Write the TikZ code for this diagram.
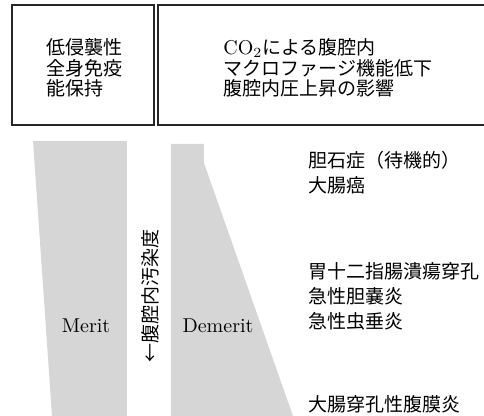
\documentclass[tikz,border=0pt]{standalone}
\usepackage{fontspec}
\newfontfamily\jfont[Scale=0.95]{Noto Sans CJK JP}
\begin{document}
\begin{tikzpicture}[x=0.5pt,y=-0.5pt,
    panel/.style={draw=black!85,line width=0.7pt},
    band/.style={fill=black!16,draw=none},
    jtext/.style={anchor=base west,inner sep=0pt,font=\jfont},
    ltext/.style={anchor=base,inner sep=0pt}]
  \useasboundingbox (0,0) rectangle (484,416);
  % boxes
  \draw[panel] (12,5) rectangle (154,125);
  \draw[panel] (158,5) rectangle (492,125);
  \node[jtext] (m1) at (46,55) {低侵襲性};
  \node[jtext] (m2) at (46,75.5) {全身免疫};
  \node[jtext] (m3) at (46,96) {能保持};
  \node[anchor=base west,inner sep=0pt] (d1) at (223,55) {CO$_2${\jfont による腹腔内}};
  \node[jtext] (d2) at (223,75.5) {マクロファージ機能低下};
  \node[jtext] (d3) at (223,96) {腹腔内圧上昇の影響};
  % bands
  \fill[band] (33,141) -- (127,141) -- (127,416) -- (52,416) -- cycle;
  \fill[band] (171,144) -- (204,144) -- (204,163) -- (293,416) -- (171,416) -- cycle;
  \node[ltext] (merit) at (86,333) {Merit};
  \node[ltext] (demerit) at (218,333) {Demerit};
  \node[inner sep=0pt,rotate=90,font=\jfont] (axis) at (150,296) {←腹腔内汚染度};
  % diseases
  \node[jtext] (s1) at (308,168) {胆石症（待機的）};
  \node[jtext] (s2) at (308,193) {大腸癌};
  \node[jtext] (s3) at (308,279) {胃十二指腸潰瘍穿孔};
  \node[jtext] (s4) at (308,304) {急性胆嚢炎};
  \node[jtext] (s5) at (308,329) {急性虫垂炎};
  \node[jtext] (s6) at (308,412) {大腸穿孔性腹膜炎};
\end{tikzpicture}
\end{document}
